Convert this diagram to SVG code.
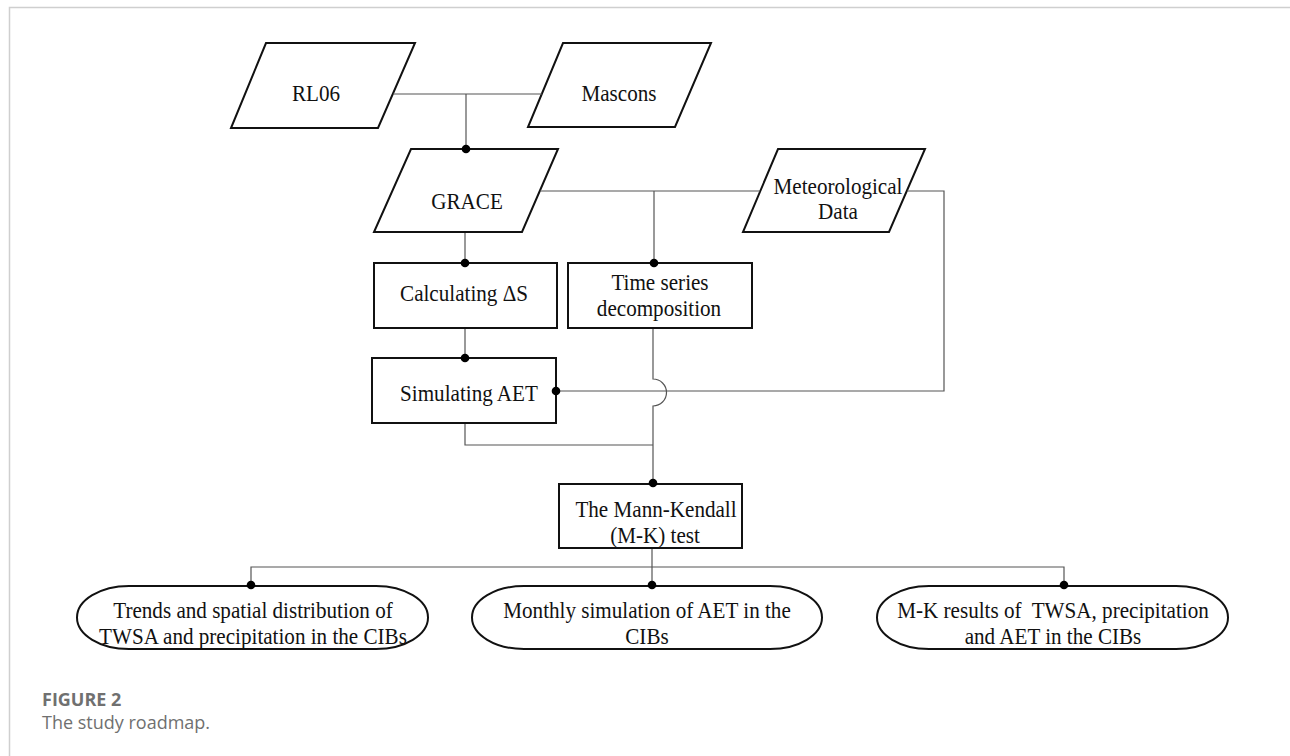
<svg xmlns="http://www.w3.org/2000/svg" width="1290" height="756" viewBox="0 0 1290 756">
<style>
.shape{fill:#fff;stroke:#111;stroke-width:2}
.conn{fill:none;stroke:#555;stroke-width:1.2}
.dot{fill:#000}
.t{font-family:"Liberation Serif","Times New Roman",serif;font-size:24px;fill:#111;text-anchor:middle}
.cap1{font-family:"Open Sans","Noto Sans",sans-serif;font-size:18px;font-weight:bold;fill:#707070}
.cap2{font-family:"Open Sans","Noto Sans",sans-serif;font-size:18px;fill:#707070}
.frame{stroke:#cfcfcf;stroke-width:1.5;fill:none}
</style>
<rect width="1290" height="756" fill="#fff"/>
<path class="frame" d="M9.5 756 V7.5 H1290"/>

<g id="node-rl06">
<polygon class="shape" points="266,43 415,43 378,128 231,128"/>
<text class="t" transform="translate(316,101) scale(0.88,1)">RL06</text>
</g>
<g id="node-mascons">
<polygon class="shape" points="563,43 711,43 675,127 528,127"/>
<text class="t" transform="translate(619,101) scale(0.88,1)">Mascons</text>
</g>
<g id="node-grace">
<polygon class="shape" points="411,149 558,149 522,232 374,232"/>
<text class="t" transform="translate(467,209) scale(0.88,1)">GRACE</text>
</g>
<g id="node-meteo">
<polygon class="shape" points="778,149 925,149 889,232 743,232"/>
<text class="t" transform="translate(838,194) scale(0.88,1)">Meteorological</text>
<text class="t" transform="translate(838,219) scale(0.88,1)">Data</text>
</g>
<g id="node-calc">
<rect class="shape" x="374" y="263" width="183" height="65"/>
<text class="t" transform="translate(464,301) scale(0.88,1)">Calculating ΔS</text>
</g>
<g id="node-tsd">
<rect class="shape" x="568" y="263" width="184" height="65"/>
<text class="t" transform="translate(660,290) scale(0.88,1)">Time series</text>
<text class="t" transform="translate(659,316) scale(0.88,1)">decomposition</text>
</g>
<g id="node-aet">
<rect class="shape" x="372" y="358" width="184" height="65"/>
<text class="t" transform="translate(469,401) scale(0.88,1)">Simulating AET</text>
</g>
<g id="node-mk">
<rect class="shape" x="559" y="484" width="183" height="64"/>
<text class="t" transform="translate(656,517) scale(0.88,1)">The Mann-Kendall</text>
<text class="t" transform="translate(655,543) scale(0.88,1)">(M-K) test</text>
</g>
<g id="node-out1">
<rect class="shape" x="77" y="586" width="351" height="63" rx="52" ry="31.5"/>
<text class="t" transform="translate(253,618) scale(0.88,1)">Trends and spatial distribution of</text>
<text class="t" transform="translate(253,644) scale(0.88,1)">TWSA and precipitation in the CIBs</text>
</g>
<g id="node-out2">
<rect class="shape" x="472" y="586" width="350" height="63" rx="52" ry="31.5"/>
<text class="t" transform="translate(647,618) scale(0.88,1)">Monthly simulation of AET in the</text>
<text class="t" transform="translate(647,644) scale(0.88,1)">CIBs</text>
</g>
<g id="node-out3">
<rect class="shape" x="877" y="586" width="351" height="63" rx="52" ry="31.5"/>
<text class="t" transform="translate(1053,618) scale(0.88,1)" xml:space="preserve">M-K results of  TWSA, precipitation</text>
<text class="t" transform="translate(1053,644) scale(0.88,1)">and AET in the CIBs</text>
</g>

<g id="connectors">
<path class="conn" d="M393 94 H542"/>
<path class="conn" d="M466 94 V149"/>
<path class="conn" d="M540 191 H760"/>
<path class="conn" d="M654 191 V263"/>
<path class="conn" d="M907 191 H944 V391 H556"/>
<path class="conn" d="M465 233 V263"/>
<path class="conn" d="M465 329 V358"/>
<path class="conn" d="M653 329 V379 A13.5 13.5 0 0 1 653 406 V483"/>
<path class="conn" d="M465 424 V445 H653"/>
<path class="conn" d="M652 549 V586"/>
<path class="conn" d="M251 586 V567 H1064 V586"/>
<circle class="dot" cx="466" cy="149" r="4.3"/>
<circle class="dot" cx="465" cy="263" r="4.3"/>
<circle class="dot" cx="654" cy="263" r="4.3"/>
<circle class="dot" cx="465" cy="358" r="4.3"/>
<circle class="dot" cx="556" cy="391" r="4.3"/>
<circle class="dot" cx="653" cy="483" r="4.3"/>
<circle class="dot" cx="251" cy="585" r="4.3"/>
<circle class="dot" cx="652" cy="585" r="4.3"/>
<circle class="dot" cx="1064" cy="585" r="4.3"/>
</g>

<g id="caption">
<text class="cap1" x="42" y="706">FIGURE 2</text>
<text class="cap2" x="42" y="729">The study roadmap.</text>
</g>
</svg>
